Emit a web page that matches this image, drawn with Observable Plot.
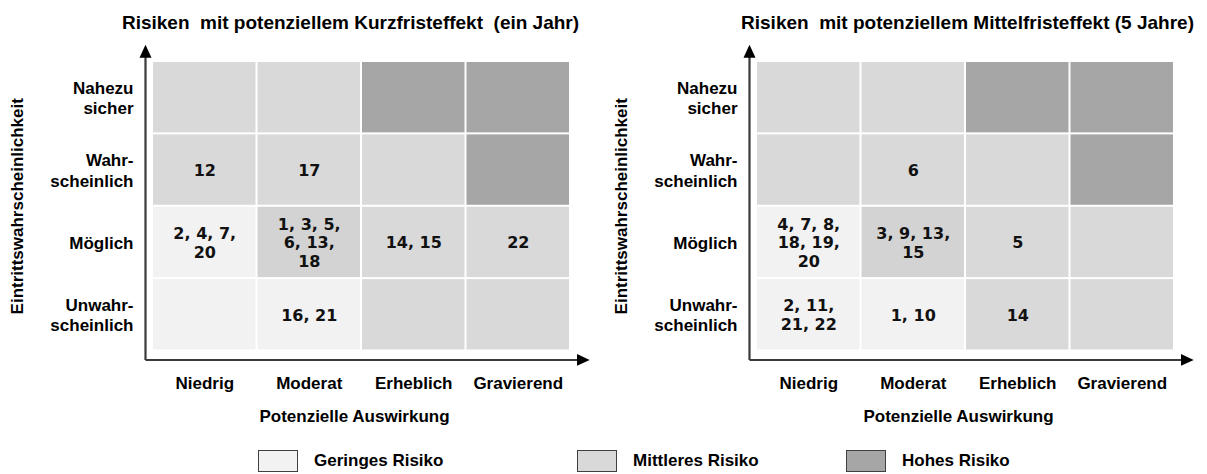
<!DOCTYPE html>
<html>
<head>
<meta charset="utf-8">
<script src="https://cdn.jsdelivr.net/npm/d3@7"></script>
<script src="https://cdn.jsdelivr.net/npm/@observablehq/plot@0.6"></script>
<style>
  body { margin: 0; background: #fff; }
  #root { position: relative; width: 1207px; height: 474px; overflow: hidden; background: #fff;
          font-family: "Liberation Sans", Arial, sans-serif; }
  .panel { position: absolute; top: 0; }
  .legend-item { position: absolute; top: 450px; display: flex; align-items: center;
                 font: bold 17px "Liberation Sans", Arial, sans-serif; color: #000; }
  .legend-box { width: 38px; height: 20px; border: 1.5px solid #404040; margin-right: 16px; }
</style>
</head>
<body>
<div id="root"></div>
<script>
// ---------- data ----------
const impacts = ["Niedrig", "Moderat", "Erheblich", "Gravierend"];
const likelihoods = ["Unwahrscheinlich", "Möglich", "Wahrscheinlich", "Nahezu sicher"]; // bottom → top
const likelihoodLabels = ["Unwahr-\nscheinlich", "Möglich", "Wahr-\nscheinlich", "Nahezu\nsicher"];
const riskLevelNames = ["Geringes Risiko", "Mittleres Risiko", "Hohes Risiko"];
const riskLevelCodes = [0, 1, 3];
// risk level of each cell, rows bottom → top, columns = impacts
const levelRows = [
  [0, 0, 1, 1],
  [0, 2, 1, 1],
  [1, 1, 1, 3],
  [1, 1, 3, 3]
];
const titles = [
  "Risiken  mit potenziellem Kurzfristeffekt  (ein Jahr)",
  "Risiken  mit potenziellem Mittelfristeffekt (5 Jahre)"
];
const shortTermRisks = [
  {impact: "Niedrig", likelihood: "Wahrscheinlich", ids: "12"},
  {impact: "Moderat", likelihood: "Wahrscheinlich", ids: "17"},
  {impact: "Niedrig", likelihood: "Möglich", ids: "2, 4, 7,\n20"},
  {impact: "Moderat", likelihood: "Möglich", ids: "1, 3, 5,\n6, 13,\n18"},
  {impact: "Erheblich", likelihood: "Möglich", ids: "14, 15"},
  {impact: "Gravierend", likelihood: "Möglich", ids: "22"},
  {impact: "Moderat", likelihood: "Unwahrscheinlich", ids: "16, 21"}
];
const mediumTermRisks = [
  {impact: "Moderat", likelihood: "Wahrscheinlich", ids: "6"},
  {impact: "Niedrig", likelihood: "Möglich", ids: "4, 7, 8,\n18, 19,\n20"},
  {impact: "Moderat", likelihood: "Möglich", ids: "3, 9, 13,\n15"},
  {impact: "Erheblich", likelihood: "Möglich", ids: "5"},
  {impact: "Niedrig", likelihood: "Unwahrscheinlich", ids: "2, 11,\n21, 22"},
  {impact: "Moderat", likelihood: "Unwahrscheinlich", ids: "1, 10"},
  {impact: "Erheblich", likelihood: "Unwahrscheinlich", ids: "14"}
];

// ---------- build ----------
const cells = levelRows.flatMap((row, r) =>
  row.map((level, c) => ({impact: impacts[c], likelihood: likelihoods[r], level})));
const xi = d => impacts.indexOf(d.impact);
const yi = d => likelihoods.indexOf(d.likelihood);

const colorScale = {type: "ordinal", domain: [0, 1, 2, 3], range: ["#f2f2f2", "#d9d9d9", "#d3d3d3", "#a6a6a6"]};
const font = "Liberation Sans, Arial, sans-serif";

function matrix(title, risks, idx, titleDx) {
  const n = impacts.length, m = likelihoods.length;
  // axis arrows extend a little beyond the grid
  const ox = -0.067, oy = -0.124, ex = n + 0.155, ey = m + 0.19;
  const axes = [
    {x1: ox, y1: oy, x2: ox, y2: ey},
    {x1: ox, y1: oy, x2: ex, y2: oy}
  ];
  const plot = Plot.plot({
    width: 603,
    height: 440,
    marginLeft: 152,
    marginRight: 33,
    marginTop: 61,
    marginBottom: 89.5,
    style: {fontFamily: font, fontSize: "17px", fontWeight: "bold", background: "#fff", overflow: "visible", color: "#000"},
    x: {domain: [0, n]},
    y: {domain: [0, m]},
    color: colorScale,
    marks: [
      Plot.rect(cells, {x1: xi, x2: d => xi(d) + 1, y1: yi, y2: d => yi(d) + 1, fill: "level", inset: 1}),
      Plot.text(risks, {x: d => xi(d) + 0.5, y: d => yi(d) + 0.5, text: "ids",
        fontFamily: "DejaVu Sans, Verdana, sans-serif", fontWeight: "bold", fontSize: 16,
        lineHeight: 1.17, fill: "#111"}),
      Plot.axisX({ticks: impacts.map((_, i) => i + 0.5), tickFormat: d => impacts[Math.floor(d)],
        tickSize: 0, tickPadding: 26, label: null, fontSize: 17, fontWeight: "bold", fill: "#000"}),
      Plot.axisY({ticks: likelihoods.map((_, i) => i + 0.5), tickFormat: d => likelihoodLabels[Math.floor(d)],
        tickSize: 0, tickPadding: 19, label: null, fontSize: 17, fontWeight: "bold", lineHeight: 1.18, fill: "#000"}),
      Plot.link(axes, {x1: "x1", y1: "y1", x2: "x2", y2: "y2", stroke: "#3a3a3a", strokeWidth: 2.2,
        ariaDescription: "axis-arrows"}),
      Plot.text([title], {frameAnchor: "top", dy: -39, dx: titleDx, fontSize: 19, fontWeight: "bold",
        lineAnchor: "middle", textAnchor: "middle", fill: "#000"}),
      Plot.text(["Potenzielle Auswirkung"], {frameAnchor: "bottom", dy: 66, dx: -7, fontSize: 17, fontWeight: "bold",
        lineAnchor: "middle", textAnchor: "middle", fill: "#000"}),
      Plot.text(["Eintrittswahrscheinlichkeit"], {frameAnchor: "left", dx: -135, rotate: -90, fontSize: 17,
        fontWeight: "bold", lineAnchor: "middle", textAnchor: "middle", fill: "#000"})
    ]
  });
  // filled triangular arrowheads
  const svg = d3.select(plot);
  const id = "arrowhead-" + idx;
  svg.append("defs").append("marker")
    .attr("id", id).attr("viewBox", "0 0 13 13").attr("refX", 10).attr("refY", 6.5)
    .attr("markerWidth", 13).attr("markerHeight", 13).attr("markerUnits", "userSpaceOnUse")
    .attr("orient", "auto")
    .append("path").attr("d", "M0,0.5L13,6.5L0,12.5Z").attr("fill", "#000");
  svg.selectAll('g[aria-label="link"] path').attr("marker-end", `url(#${id})`);
  return plot;
}

const root = document.getElementById("root");
const left = matrix(titles[0], shortTermRisks, 0, -11);
left.classList.add("panel"); left.style.left = "0px";
const right = matrix(titles[1], mediumTermRisks, 1, 2);
right.classList.add("panel"); right.style.left = "604px";
root.appendChild(left);
root.appendChild(right);

// legend
const legendLefts = [258, 577, 846];
const legend = d3.select(root);
riskLevelNames.forEach((name, i) => {
  const item = legend.append("div").attr("class", "legend-item").style("left", legendLefts[i] + "px");
  item.append("div").attr("class", "legend-box")
    .style("background", colorScale.range[colorScale.domain.indexOf(riskLevelCodes[i])]);
  item.append("span").text(name);
});
</script>
</body>
</html>
